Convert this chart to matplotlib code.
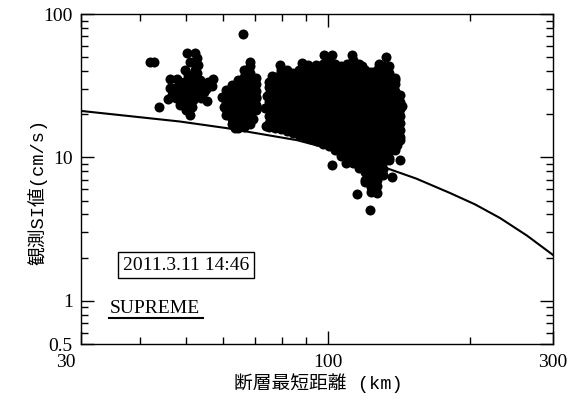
import numpy as np
import matplotlib
matplotlib.use('Agg')
import matplotlib.pyplot as plt
from matplotlib.ticker import FixedLocator, NullFormatter
from matplotlib.transforms import ScaledTranslation

plt.rcParams['font.family'] = ['Liberation Serif', 'Noto Sans CJK JP']

# SUPREME attenuation curve
curve_x = [30, 38.1, 48.6, 61.1, 86.0, 106.1, 130.3, 153.8, 181.5, 205, 231.7, 264.3, 300]
curve_y = [21.1, 19.4, 17.8, 16.0, 13.2, 11.0, 8.64, 7.13, 5.65, 4.71, 3.78, 2.85, 2.09]

# observed SI values: loose group near 40-57 km
group_a = [
    (42.0, 46.0), (42.8, 46.3), (50.2, 53.5), (52.3, 53.5), (52.8, 49.5), (53.1, 44.1),
    (49.8, 40.7), (52.8, 38.9), (53.6, 34.7), (51.0, 46.3), (52.3, 40.7), (51.5, 34.7),
    (46.3, 35.3), (57.1, 35.3), (56.8, 31.3), (54.1, 32.0), (46.3, 30.7), (48.6, 33.3),
    (51.0, 29.5), (49.3, 26.5), (53.6, 28.0), (48.1, 28.5), (47.4, 30.7), (49.3, 29.5),
    (50.5, 31.5), (45.8, 25.7), (43.9, 22.6), (48.6, 23.2), (55.4, 24.7), (51.0, 19.8),
    (51.8, 25.1), (49.8, 24.0), (46.8, 27.2), (52.3, 27.2), (51.5, 22.6), (50.0, 21.4),
    (54.8, 28.5), (50.6, 37.5), (49.1, 31.0), (55.2, 30.0), (53.0, 31.0), (47.7, 26.0),
    (50.6, 27.0), (52.1, 30.0), (54.0, 26.0), (48.0, 35.0), (55.8, 33.5), (50.0, 34.0),
]

# group near 60-70 km, column by column
group_b_x = [60.9, 62.7, 64.5, 66.5, 68.4, 70.3]
group_b_y = [
    [19.8, 21.9, 24.5, 27.5, 29.5],
    [17.1, 18.5, 20.7, 23.2, 26.0, 29.1, 32.0],
    [16.0, 17.5, 19.6, 21.9, 24.5, 27.5, 30.8, 34.5],
    [16.3, 18.5, 20.7, 23.2, 26.0, 29.1, 32.6, 36.5, 40.7],
    [17.1, 19.6, 21.9, 24.5, 27.5, 30.8, 34.5, 38.6, 43.2, 46.3],
    [21.4, 23.2, 26.0, 29.1, 32.6, 35.8],
]
group_b_extra = [(66.0, 72.5), (59.7, 26.5), (60.2, 22.6), (63.6, 16.1), (69.3, 18.4),
                 (70.3, 26.5)]

# dense group 75-143 km, column by column
group_c_x = [75.0, 77.2, 79.5, 81.9, 84.3, 86.8, 89.4, 92.1, 94.8, 97.6, 100.5, 103.5,
             106.6, 109.7, 113.0, 116.3, 119.8, 123.3, 127.0, 130.8, 134.7, 138.7, 142.3]
group_c_y = [
    [16.3, 17.5, 19.6, 21.9, 24.5, 27.5, 30.8, 33.6],
    [16.0, 18.5, 20.7, 23.2, 26.0, 29.1, 32.6, 36.5],
    [15.8, 17.5, 19.6, 21.9, 24.5, 27.5, 30.8, 34.5, 38.6, 40.7],
    [15.3, 16.5, 18.5, 20.7, 23.2, 26.0, 29.1, 32.6, 36.5, 40.7],
    [14.8, 15.6, 17.5, 19.6, 21.9, 24.5, 27.5, 30.8, 34.5, 38.6],
    [14.3, 16.5, 18.5, 20.7, 23.2, 26.0, 29.1, 32.6, 36.5, 40.7],
    [13.9, 15.6, 17.5, 19.6, 21.9, 24.5, 27.5, 30.8, 34.5, 38.6, 43.2],
    [13.4, 14.7, 16.5, 18.5, 20.7, 23.2, 26.0, 29.1, 32.6, 36.5, 40.9],
    [13.0, 13.9, 15.6, 17.5, 19.6, 21.9, 24.5, 27.5, 30.8, 34.5, 38.6, 42.0],
    [12.4, 13.1, 14.7, 16.5, 18.5, 20.7, 23.2, 26.0, 29.1, 32.6, 36.5, 40.9, 44.8],
    [12.0, 12.4, 13.9, 15.6, 17.5, 19.6, 21.9, 24.5, 27.5, 30.8, 34.5, 38.6, 43.2, 47.7],
    [11.3, 11.7, 13.1, 14.7, 16.5, 18.5, 20.7, 23.2, 26.0, 29.1, 32.6, 36.5, 40.9, 44.8],
    [10.2, 11.1, 12.4, 13.9, 15.6, 17.5, 19.6, 21.9, 24.5, 27.5, 30.8, 34.5, 38.6, 43.2],
    [9.6, 10.5, 11.7, 13.1, 14.7, 16.5, 18.5, 20.7, 23.2, 26.0, 29.1, 32.6, 36.5, 40.9, 44.8],
    [9.15, 9.9, 11.1, 12.4, 13.9, 15.6, 17.5, 19.6, 21.9, 24.5, 27.5, 30.8, 34.5, 38.6,
     43.2, 47.7],
    [8.44, 9.3, 10.5, 11.7, 13.1, 14.7, 16.5, 18.5, 20.7, 23.2, 26.0, 29.1, 32.6, 36.5,
     40.9, 44.8],
    [6.74, 7.0, 7.9, 8.8, 9.9, 11.1, 12.4, 13.9, 15.6, 17.5, 19.6, 21.9, 24.5, 27.5, 30.8,
     34.5, 38.6, 40.7],
    [5.74, 6.2, 6.6, 7.4, 8.3, 9.3, 10.5, 11.7, 13.1, 14.7, 16.5, 18.5, 20.7, 23.2, 26.0,
     29.1, 32.6, 36.5, 39.4],
    [5.65, 6.3, 7.0, 7.9, 8.8, 9.9, 11.1, 12.4, 13.9, 15.6, 17.5, 19.6, 21.9, 24.5, 27.5,
     30.8, 34.5, 38.6, 40.7],
    [7.54, 8.3, 9.3, 10.5, 11.7, 13.1, 14.7, 16.5, 18.5, 20.7, 23.2, 26.0, 29.1, 32.6, 36.5,
     40.9, 43.4],
    [9.6, 9.9, 11.1, 12.4, 13.9, 15.6, 17.5, 19.6, 21.9, 24.5, 27.5, 30.8, 34.5, 38.6, 43.2],
    [11.3, 11.7, 13.1, 14.7, 16.5, 18.5, 20.7, 23.2, 26.0, 29.1, 32.6, 35.8],
    [13.2, 13.9, 15.6, 17.5, 19.6, 21.9, 24.5, 27.2],
]

# stray points around the dense group
group_c_extra = [
    (79.2, 44.1), (88.0, 45.5), (94.5, 44.1), (98.4, 51.8), (102.0, 51.8), (112.6, 51.8),
    (133.1, 50.0), (139.0, 34.7), (122.8, 4.3), (115.6, 5.6), (136.7, 7.3), (142.2, 9.6),
    (101.9, 8.9), (109.1, 9.1), (141.5, 20.0), (140.0, 12.2), (74.0, 16.6), (73.6, 22.0),
    (74.2, 27.0), (76.0, 37.0), (91.0, 44.0), (118.0, 43.5), (128.5, 44.5), (143.5, 23.0),
]

pts = list(group_a) + list(group_b_extra) + list(group_c_extra)
for cx, ys in zip(group_b_x + group_c_x, group_b_y + group_c_y):
    pts += [(cx, y) for y in ys]
obs_x = np.array([p[0] for p in pts])
obs_y = np.array([p[1] for p in pts])

fig = plt.figure(figsize=(5.76, 4.05), dpi=100)
ax = fig.add_axes([0.1406, 0.1506, 0.8194, 0.8148])

ax.scatter(obs_x, obs_y, s=52, c='black', linewidths=0, zorder=2)
ax.plot(curve_x, curve_y, color='black', lw=1.5, zorder=3)

ax.set_xscale('log')
ax.set_yscale('log')
ax.set_xlim(30, 300)
ax.set_ylim(0.5, 100)

ax.xaxis.set_major_locator(FixedLocator([30, 100, 300]))
ax.xaxis.set_minor_locator(FixedLocator([40, 50, 60, 70, 80, 90, 200]))
ax.set_xticklabels(['30', '100', '300'])
ax.yaxis.set_major_locator(FixedLocator([0.5, 1, 10, 100]))
ax.yaxis.set_minor_locator(FixedLocator(list(np.arange(0.6, 1.0, 0.1)) +
                                        list(range(2, 10)) + list(range(20, 100, 10))))
ax.set_yticklabels(['0.5', '1', '10', '100'])
ax.xaxis.set_minor_formatter(NullFormatter())
ax.yaxis.set_minor_formatter(NullFormatter())

ax.tick_params(which='both', direction='in', top=True, right=True, width=1,
               labelsize=14)
ax.tick_params(which='major', length=9.5)
ax.tick_params(which='minor', length=4.8)
ax.tick_params(axis='x', pad=7)
ax.tick_params(axis='y', pad=6)
for s in ax.spines.values():
    s.set_linewidth(1)

# the "30" label sits left of its tick in the original
lbl = ax.get_xticklabels()[0]
lbl.set_transform(lbl.get_transform() + ScaledTranslation(-0.15, 0, fig.dpi_scale_trans))

label_font = ['Liberation Mono', 'Noto Sans CJK JP']
ax.set_xlabel('断層最短距離 (km)', fontsize=13.5, family=label_font)
ax.set_ylabel('観測SI値(cm/s)', fontsize=13.5, family=label_font)
ax.xaxis.set_label_coords(0.502, -0.088)
ax.yaxis.set_label_coords(-0.072, 0.46)

ax.text(0.222, 0.239, '2011.3.11 14:46', transform=ax.transAxes, fontsize=14,
        ha='center', va='center',
        bbox=dict(boxstyle='square,pad=0.25', fc='white', ec='black', lw=1))

ax.text(0.061, 0.094, 'SUPREME', transform=ax.transAxes, fontsize=14,
        ha='left', va='baseline')
ax.plot([0.059, 0.258], [0.079, 0.079], transform=ax.transAxes, color='black', lw=1.5)

plt.savefig('out.png', dpi=100)
